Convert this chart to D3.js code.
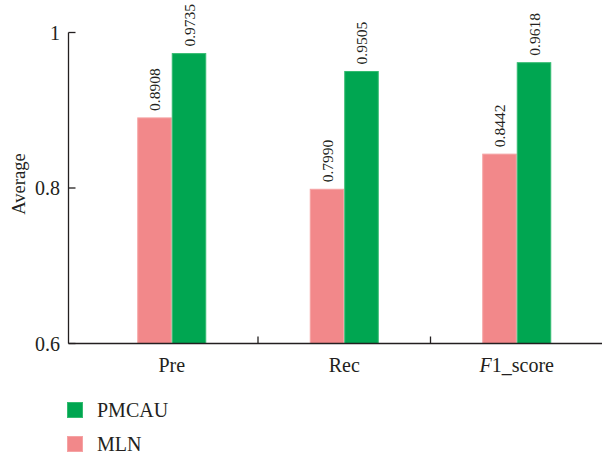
<!DOCTYPE html>
<html>
<head>
<meta charset="utf-8">
<script src="https://cdn.jsdelivr.net/npm/d3@7"></script>
<style>
  body { margin: 0; background: #fff; }
  svg { display: block; }
  text { font-family: "Liberation Serif", "DejaVu Serif", serif; fill: #231f20; }
</style>
</head>
<body>
<svg id="chart" width="602" height="455"></svg>
<script>
// Metrics on the x axis
const categories = ["Pre", "Rec", "F1_score"];
// Average scores per method
const mlnValues = [0.8908, 0.7990, 0.8442];
const pmcauValues = [0.9735, 0.9505, 0.9618];
// Y axis ticks
const yTicks = [0.6, 0.8, 1];
const yTickLabels = ["0.6", "0.8", "1"];
const seriesNames = ["MLN", "PMCAU"];
const seriesColors = ["#f2888a", "#00a651"];
const seriesEdges = ["#f5a3a4", "#33bb70"];

const svg = d3.select("#chart");
const axisLeftX = 68.5, axisBottomY = 343.5, axisRightX = 603;
const mainFont = 20;
const valueFont = 15.5;

const x = d3.scaleBand().domain(categories).range([85.5, 603]).paddingInner(0).paddingOuter(0);
const y = d3.scaleLinear().domain([0.6, 1]).range([343.5, 32.5]);
const barW = x.bandwidth() * 0.2;

const series = [mlnValues, pmcauValues];

// Bars and rotated value labels
series.forEach((vals, si) => {
  const g = svg.append("g");
  categories.forEach((c, i) => {
    const cx = x(c) + x.bandwidth() / 2;
    const x0 = si === 0 ? cx - barW : cx;
    g.append("rect")
      .attr("x", x0 + 0.5)
      .attr("y", y(vals[i]) + 0.5)
      .attr("width", barW - 1)
      .attr("height", y(0.6) - y(vals[i]) - 0.5)
      .attr("fill", seriesColors[si])
      .attr("stroke", seriesEdges[si])
      .attr("stroke-width", 1);
    g.append("text")
      .attr("transform", `translate(${x0 + barW / 2 + 5.5},${y(vals[i]) - 6.5}) rotate(-90)`)
      .attr("font-size", valueFont)
      .text(vals[i].toFixed(4));
  });
});

// Y axis with inward ticks
const yAxis = svg.append("g");
yAxis.append("line").attr("x1", axisLeftX).attr("x2", axisLeftX)
  .attr("y1", y(1)).attr("y2", axisBottomY)
  .attr("stroke", "#231f20").attr("stroke-width", 1.3);
yTicks.forEach((t, i) => {
  yAxis.append("line").attr("x1", axisLeftX).attr("x2", axisLeftX + 7)
    .attr("y1", y(t)).attr("y2", y(t))
    .attr("stroke", "#231f20").attr("stroke-width", 1.3);
  yAxis.append("text").attr("x", 60).attr("y", y(t) + 7)
    .attr("text-anchor", "end").attr("font-size", mainFont)
    .text(yTickLabels[i]);
});
svg.append("text")
  .attr("transform", "translate(25,184) rotate(-90)")
  .attr("text-anchor", "middle").attr("font-size", 18.5)
  .text("Average");

// X axis with inward ticks at category boundaries
const xAxis = svg.append("g");
xAxis.append("line").attr("x1", axisLeftX).attr("x2", axisRightX)
  .attr("y1", axisBottomY).attr("y2", axisBottomY)
  .attr("stroke", "#231f20").attr("stroke-width", 1.3);
categories.slice(1).forEach(c => {
  xAxis.append("line").attr("x1", x(c)).attr("x2", x(c))
    .attr("y1", axisBottomY).attr("y2", axisBottomY - 7)
    .attr("stroke", "#231f20").attr("stroke-width", 1.3);
});
categories.forEach(c => {
  const t = xAxis.append("text")
    .attr("x", x(c) + x.bandwidth() / 2).attr("y", 372)
    .attr("text-anchor", "middle").attr("font-size", mainFont);
  if (c === "F1_score") {
    t.append("tspan").attr("font-style", "italic").text("F");
    t.append("tspan").text("1_score");
  } else {
    t.text(c);
  }
});

// Legend
const legendOrder = [1, 0];
legendOrder.forEach((si, k) => {
  const ly = 402.5 + k * 34;
  svg.append("rect").attr("x", 67.5).attr("y", ly).attr("width", 15).attr("height", 15)
    .attr("fill", seriesColors[si])
    .attr("stroke", seriesEdges[si]).attr("stroke-width", 1);
  svg.append("text").attr("x", 97).attr("y", ly + 14.5).attr("font-size", mainFont)
    .text(seriesNames[si]);
});
</script>
</body>
</html>
